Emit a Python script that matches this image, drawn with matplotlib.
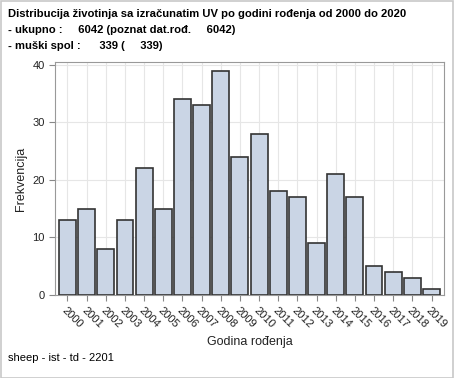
import matplotlib
matplotlib.use("Agg")
import matplotlib.pyplot as plt
from matplotlib.patches import Rectangle

years = [str(y) for y in range(2000, 2020)]
counts = [13, 15, 8, 13, 22, 15, 34, 33, 39, 24, 28, 18, 17, 9, 21, 17, 5, 4, 3, 1]
yticks = [0, 10, 20, 30, 40]
title_lines = ["Distribucija životinja sa izračunatim UV po godini rođenja od 2000 do 2020",
               "- ukupno :     6042 (poznat dat.rođ.     6042)",
               "- muški spol :      339 (     339)"]
footer = "sheep - ist - td - 2201"

plt.rcParams['font.family'] = ['Liberation Sans', 'DejaVu Sans']
fig = plt.figure(figsize=(4.54, 3.78), dpi=100)
W, H = 454, 378
ax = fig.add_axes([55/W, 1-295/H, (444-55)/W, (295-62)/H])

x = list(range(len(years)))
ax.bar(x, counts, width=0.88, color='#CAD5E5', edgecolor='#333333', linewidth=1.2, zorder=3)
ax.set_xlim(-0.65, len(years)-0.35)
ax.set_ylim(0, 40.5)
ax.set_yticks(yticks)
ax.set_xticks(x)
ax.set_xticklabels(years, rotation=-45, ha='left', va='top', rotation_mode='anchor', fontsize=8)
for lbl in ax.get_xticklabels():
    lbl.set_transform(lbl.get_transform() + matplotlib.transforms.ScaledTranslation(-5/72, 0, fig.dpi_scale_trans))
ax.tick_params(axis='both', labelsize=8, color='#888888', length=4, labelcolor='#222222')
ax.grid(True, color='#E6E6E6', linewidth=0.8, zorder=0)
ax.set_axisbelow(True)
for s in ax.spines.values():
    s.set_color('#999999')
    s.set_linewidth(0.8)
ax.set_xlabel("Godina rođenja", fontsize=9, labelpad=4, color='#222222')
ax.set_ylabel("Frekvencija", fontsize=9, color='#222222')

for i, t in enumerate(title_lines):
    fig.text(8/W, 1-(14+16*i)/H, t, fontsize=8.1, fontweight='bold', va='center', ha='left')
fig.text(8/W, 1-358/H, footer, fontsize=8, va='center', ha='left')
fig.patches.append(Rectangle((0.5/W, 0.5/H), 1-1.5/W, 1-1.5/H, transform=fig.transFigure,
                             fill=False, edgecolor='#C8C8C8', linewidth=1.2))
fig.savefig("out.png", dpi=100)
